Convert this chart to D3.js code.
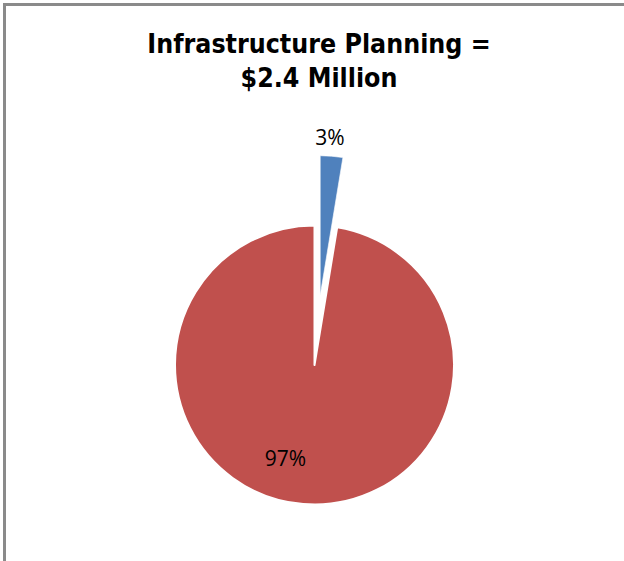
<!DOCTYPE html>
<html lang="en">
<head>
<meta charset="utf-8">
<title>Infrastructure Planning</title>
<script src="https://cdn.jsdelivr.net/npm/d3@7"></script>
<style>
  body { margin: 0; background: #fff; }
  .title { font-family: "DejaVu Sans Condensed", "DejaVu Sans", sans-serif; font-stretch: condensed; font-weight: bold; fill: #000; }
  .lbl { font-family: "Open Sans", "Noto Sans", sans-serif; fill: #000; }
</style>
</head>
<body>
<svg id="chart" width="624" height="561"></svg>
<script>
// data
var categories = ["Other", "Infrastructure Planning"];
var shares = [2.6, 97.4];
var colors = ["#4F81BD", "#C0504D"];
var titleLines = ["Infrastructure Planning =", "$2.4 Million"];

var svg = d3.select("#chart");

// outer frame, right and bottom run off the page
svg.append("rect")
    .attr("x", 4.5).attr("y", 4.5)
    .attr("width", 700).attr("height", 700)
    .attr("fill", "none")
    .attr("stroke", "#8a8a8a")
    .attr("stroke-width", 3);

svg.selectAll("text.title")
    .data(titleLines)
    .enter().append("text")
    .attr("class", "title")
    .attr("x", 319)
    .attr("y", function (d, i) { return 53 + i * 34; })
    .attr("text-anchor", "middle")
    .attr("font-size", 26.5)
    .text(function (d) { return d; });

var cx = 314.5, cy = 365, r = 139.5;
var explode = [70, 0];
var strokeW = [0.6, 2];

var pie = d3.pie().sort(null).value(function (d) { return d; });
var arcs = pie(shares);
var arc = d3.arc().innerRadius(0).outerRadius(r);
var total = d3.sum(shares);

var g = svg.append("g").attr("transform", "translate(" + cx + "," + cy + ")");

function offset(d, i) {
    var a = (d.startAngle + d.endAngle) / 2;
    return d3.pointRadial(a, explode[i]);
}

g.selectAll("path")
    .data(arcs)
    .enter().append("path")
    .attr("d", arc)
    .attr("transform", function (d, i) {
        var p = offset(d, i);
        return "translate(" + p[0] + "," + p[1] + ")";
    })
    .attr("fill", function (d, i) { return colors[i]; })
    .attr("stroke", "#fff")
    .attr("stroke-width", function (d, i) { return strokeW[i]; })
    .attr("stroke-linejoin", "round");

// label placement: small slice outside, big slice inside
var labelRadius = [r + 19, r * 0.7];
var labelTurn = [-0.02, 0.22];

g.selectAll("text.lbl")
    .data(arcs)
    .enter().append("text")
    .attr("class", "lbl")
    .attr("text-anchor", "middle")
    .attr("dominant-baseline", "central")
    .attr("font-size", 21)
    .attr("transform", function (d, i) {
        var o = offset(d, i);
        var a = (d.startAngle + d.endAngle) / 2 + labelTurn[i];
        var p = d3.pointRadial(a, labelRadius[i]);
        return "translate(" + (o[0] + p[0]) + "," + (o[1] + p[1]) + ")";
    })
    .text(function (d) { return d3.format(".0%")(d.value / total); });
</script>
</body>
</html>
